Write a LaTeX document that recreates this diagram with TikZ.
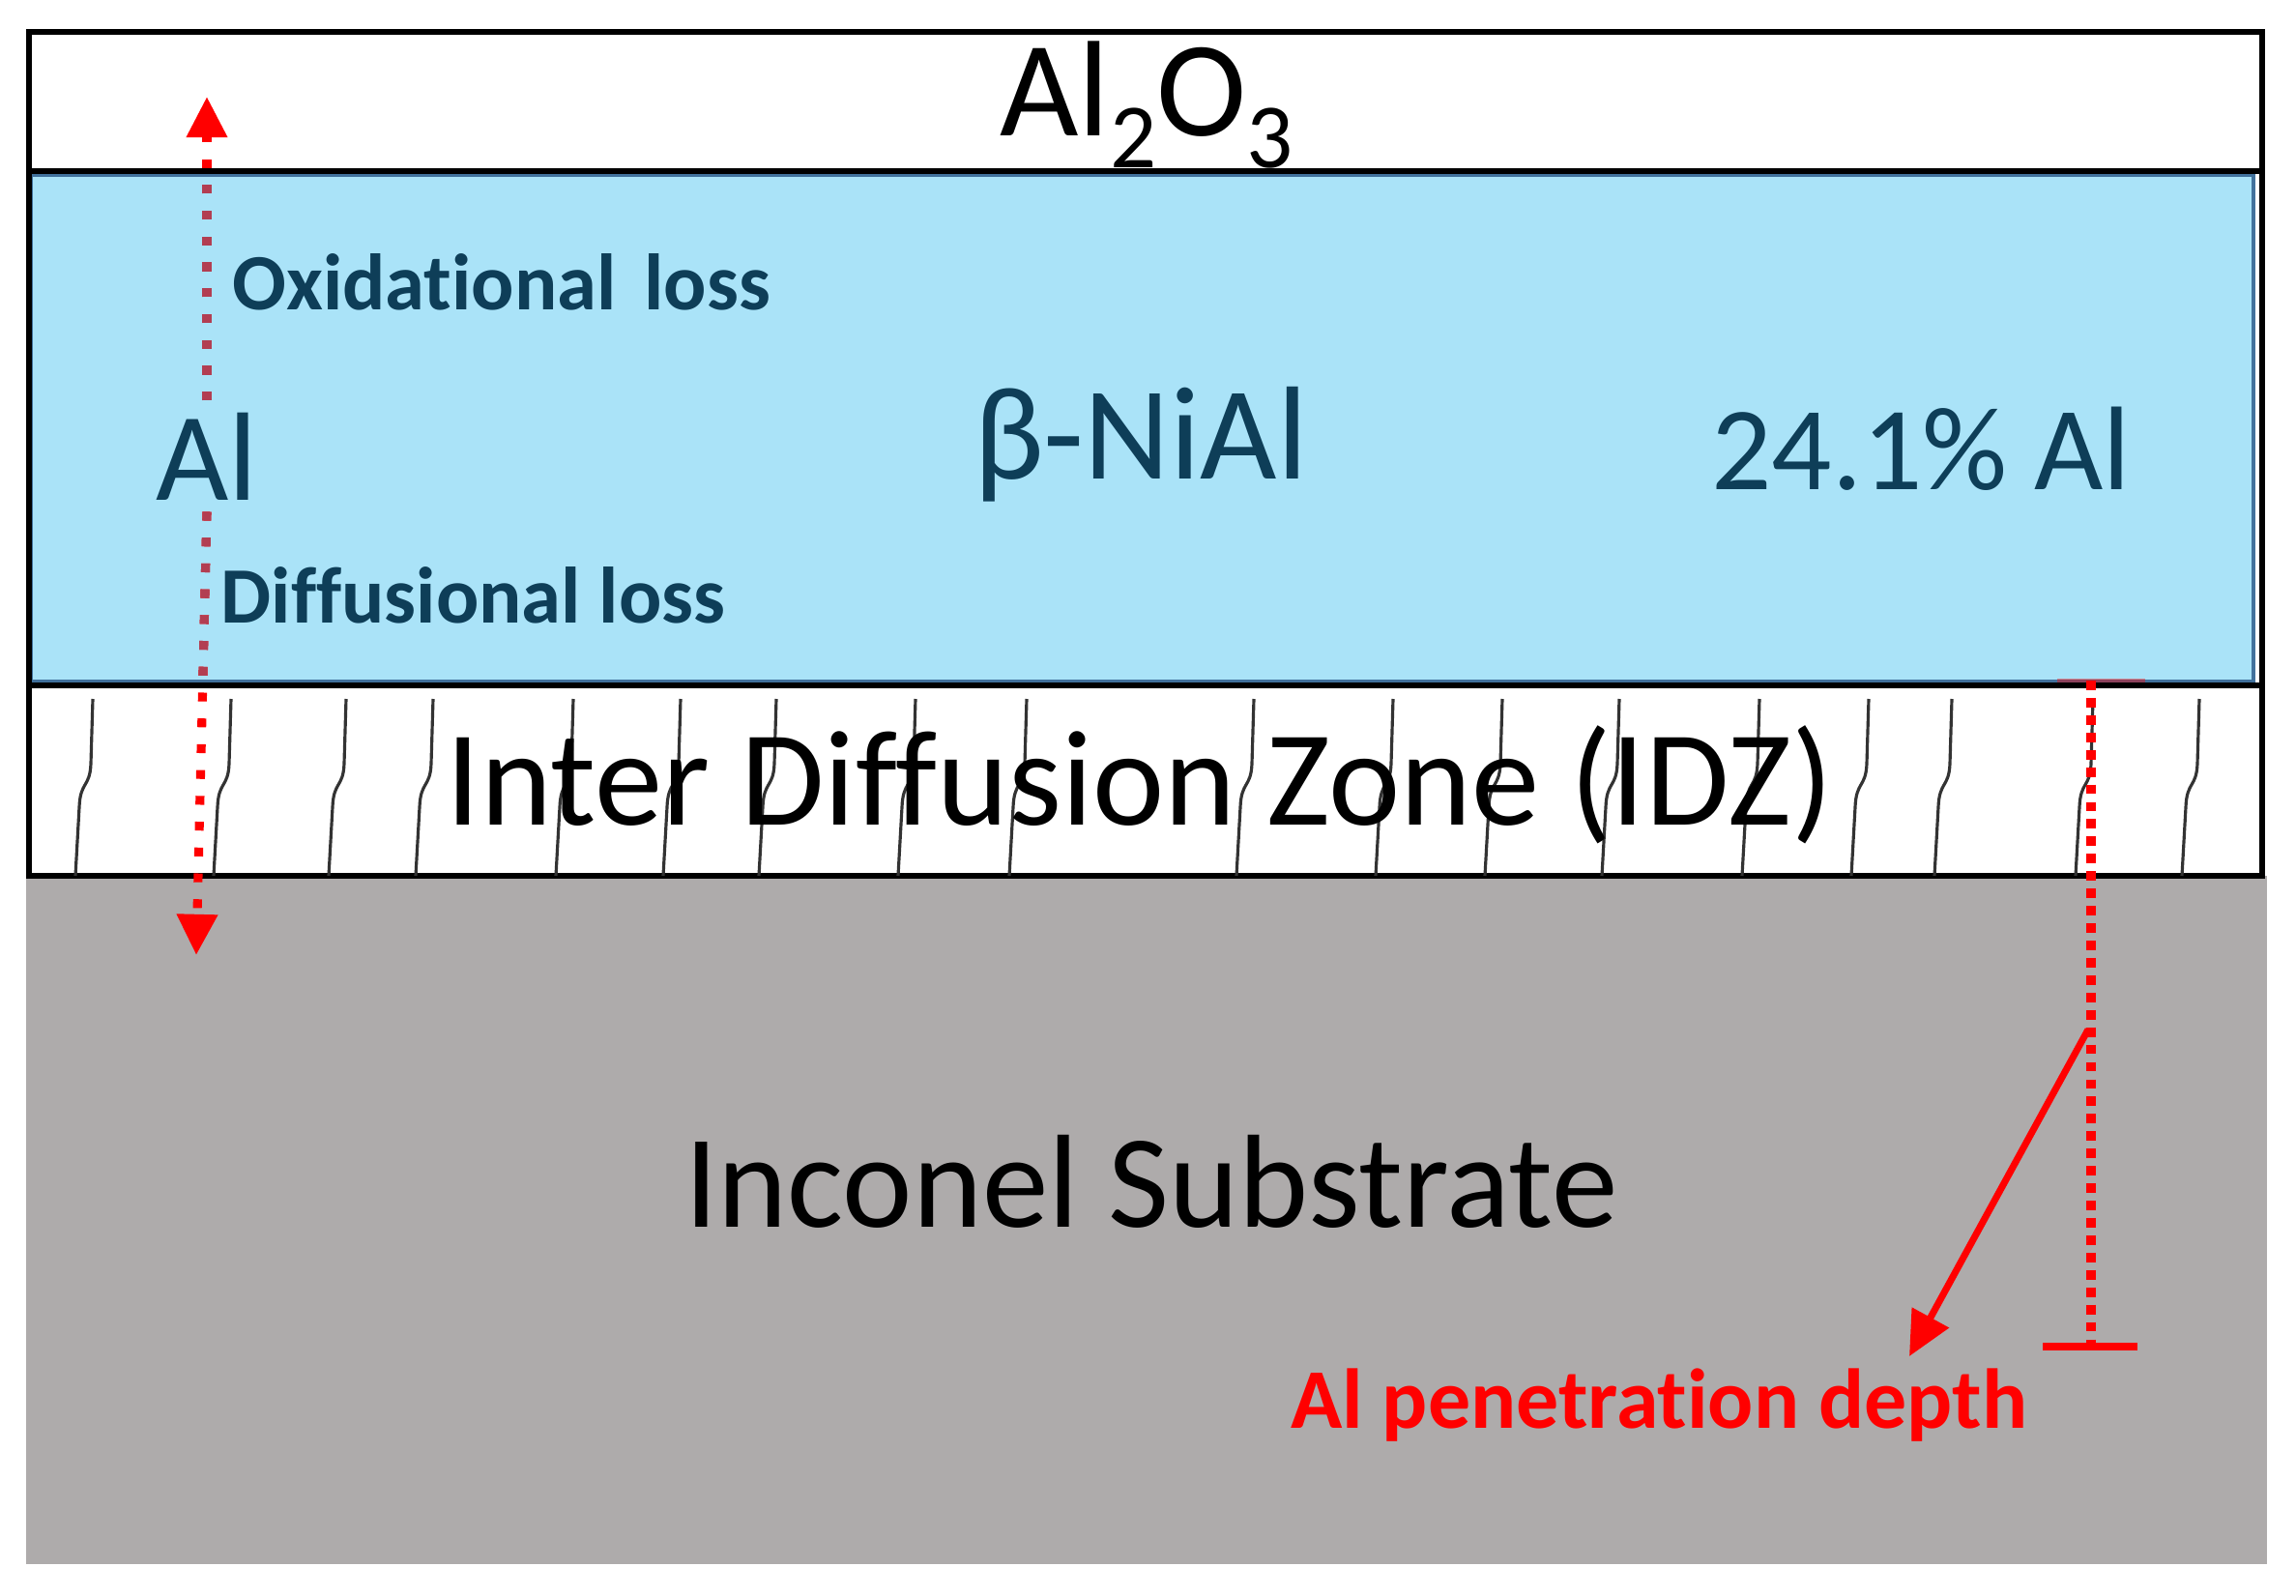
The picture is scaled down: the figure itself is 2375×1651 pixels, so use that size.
\documentclass[tikz,border=0pt]{standalone}
\usepackage{fontspec}
\setmainfont{Carlito}[Ligatures={NoCommon}]
\usetikzlibrary{arrows.meta, calc}

\definecolor{nialblue}{RGB}{170,227,248}
\definecolor{nialedge}{RGB}{65,113,156}
\definecolor{tealtext}{RGB}{14,62,88}
\definecolor{substrate}{RGB}{174,171,171}
\definecolor{dotmauve}{RGB}{178,62,82}

\tikzset{
  layer/.style={draw=black, line width=1.8pt},
  grain/.style={draw=black!80, line width=0.9pt},
  losslabel/.style={text=tealtext, font=\bfseries\fontsize{23.5}{28}\selectfont, anchor=base west, inner sep=0pt},
  flux/.style={red, line width=2.6pt, dash pattern=on 2.6pt off 5pt, -{Triangle[width=11.5pt,length=12pt]}},
  depthline/.style={red, line width=2.8pt, dash pattern=on 2.8pt off 2.3pt},
}

\begin{document}
\begin{tikzpicture}[x=0.01cm, y=-0.01cm]
  \useasboundingbox (0,0) rectangle (2375,1651);

  % substrate and coating layers
  \fill[substrate] (27,906) rectangle (2345,1618);
  \fill[white] (30,33) rectangle (2340,906);
  \draw[nialedge, fill=nialblue, line width=1.1pt] (32,181) rectangle (2331,705);
  \draw[layer] (30,33) rectangle (2340,906);
  \draw[layer] (30,177) -- (2340,177);
  \draw[layer] (30,709) -- (2340,709);

  % grain boundaries in the IDZ
  \foreach \gx in {96,239,358,448,593,704,803,947,1062,1297,1441,1554,1675,1820,1933,2019,2165,2275}
    \draw[grain] (\gx,723) -- (\gx-2,790) .. controls (\gx-3,815) and (\gx-13,808) .. (\gx-14,835) -- (\gx-18,906);

  % labels
  \node[font=\fontsize{40}{48}\selectfont, anchor=base] (alumina) at (1186,140)
    {Al\raisebox{-9.4pt}{\fontsize{27}{30}\selectfont 2}O\raisebox{-9.4pt}{\fontsize{27}{30}\selectfont 3}};
  \node[text=tealtext, font=\fontsize{39}{46}\selectfont, anchor=base] (nial) at (1180,495) {β-NiAl};
  \node[text=tealtext, font=\fontsize{35}{42}\selectfont, anchor=base] (content) at (1987,506) {24.1\% Al};
  \node[text=tealtext, font=\fontsize{37}{44}\selectfont, anchor=base] (al) at (214,517) {Al};
  \node[losslabel] (oxid) at (240,320) {Oxidational\hspace{0.35em}loss};
  \node[losslabel] (diff) at (228,644) {Diffusional loss};
  \node[font=\fontsize{40}{48}\selectfont, anchor=base] (idz) at (1179,853) {Inter Diffusion Zone (IDZ)};
  \node[font=\fontsize{39}{46}\selectfont, anchor=base] (substr) at (1191,1269) {Inconel Substrate};
  \node[text=red, font=\bfseries\fontsize{25}{30}\selectfont, anchor=base] (depth) at (1716,1477) {Al penetration depth};

  % Al loss arrows
  \coordinate (oxtop) at (218,100);
  \coordinate (difftip) at (203,988);
  \draw[flux] (al.north) -- (al.north |- oxtop);
  \draw[flux] (al.south) -- (difftip);
  \begin{scope}
    \clip (32,181) rectangle (2331,705);
    \draw[flux, dotmauve, -] (al.north) -- (al.north |- oxtop);
    \draw[flux, dotmauve, -] (al.south) -- (difftip);
  \end{scope}

  % penetration depth
  \coordinate (idztop) at (2163,704);
  \coordinate (penbot) at (2163,1393);
  \coordinate (penmid) at (2160,1065);
  \coordinate (pentip) at (1975,1403);
  \draw[depthline] (idztop) -- (penbot);
  \draw[red, opacity=0.4, line width=1pt] ($(idztop)+(-35,0)$) -- ($(idztop)+(56,0)$);
  \draw[red, line width=2.3pt] ($(penbot)+(-50,0)$) -- ($(penbot)+(48,0)$);
  \draw[red, line width=2pt, -{Triangle[width=12pt,length=13pt]}] (penmid) -- (pentip);
\end{tikzpicture}
\end{document}
